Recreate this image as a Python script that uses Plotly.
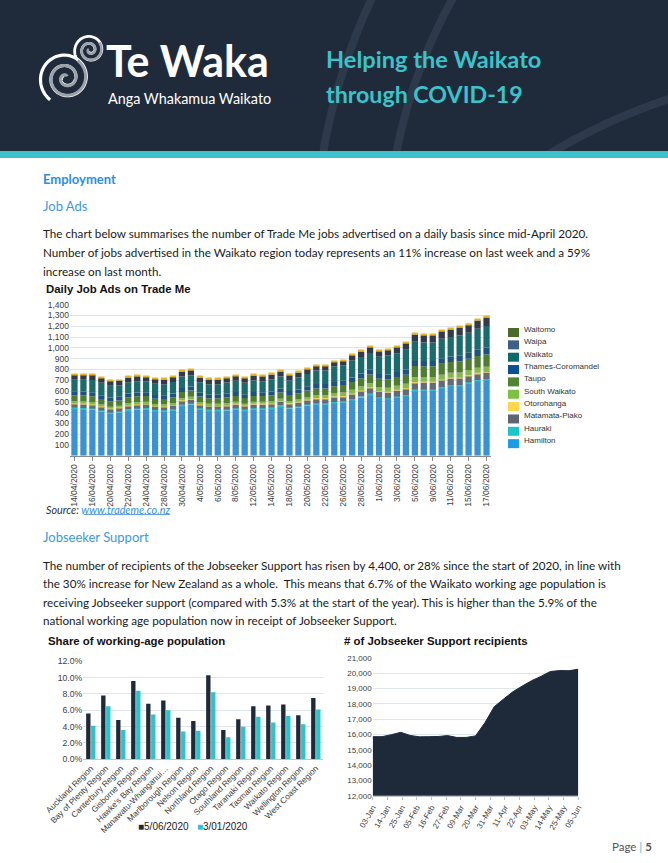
import plotly.graph_objects as go
import numpy as np

W_PX, H_PX = 668, 863


def px(x):
    return x / W_PX


def py(y):
    return 1 - y / H_PX


# ---------------- Daily Job Ads on Trade Me ----------------
DATES = ["14/04/2020", "15/04/2020", "16/04/2020", "17/04/2020", "20/04/2020", "21/04/2020",
         "22/04/2020", "23/04/2020", "24/04/2020", "27/04/2020", "28/04/2020", "29/04/2020",
         "30/04/2020", "1/05/2020", "4/05/2020", "5/05/2020", "6/05/2020", "7/05/2020",
         "8/05/2020", "11/05/2020", "12/05/2020", "13/05/2020", "14/05/2020", "15/05/2020",
         "18/05/2020", "19/05/2020", "20/05/2020", "21/05/2020", "22/05/2020", "25/05/2020",
         "26/05/2020", "27/05/2020", "28/05/2020", "29/05/2020", "1/06/2020", "2/06/2020",
         "3/06/2020", "4/06/2020", "5/06/2020", "8/06/2020", "9/06/2020", "10/06/2020",
         "11/06/2020", "12/06/2020", "15/06/2020", "16/06/2020", "17/06/2020"]

HAMILTON = [435, 432, 428, 410, 393, 400, 418, 428, 432, 415, 413, 422,
            462, 475, 432, 418, 418, 420, 430, 418, 430, 432, 435, 455, 438, 448,
            466, 478, 478, 490, 496, 517, 540, 566, 535, 525, 542, 555,
            603, 606, 606, 628, 646, 648, 672, 692, 703]
HAURAKI = [10, 10, 10, 9, 9, 9, 10, 10, 10, 9, 9, 10,
           10, 10, 9, 9, 9, 9, 10, 9, 10, 9, 9, 10, 9, 9,
           9, 9, 9, 8, 8, 8, 8, 9, 8, 8, 8, 8,
           8, 8, 8, 8, 8, 8, 9, 9, 8]
MATAMATA_PIAKO = [36, 36, 35, 33, 32, 33, 35, 35, 34, 33, 33, 34,
                  36, 36, 33, 32, 32, 34, 35, 33, 35, 34, 35, 37, 35, 37,
                  40, 42, 42, 44, 44, 46, 50, 52, 52, 54, 55, 56,
                  65, 64, 64, 63, 62, 62, 60, 60, 60]
OTOROHANGA = [6, 6, 6, 5, 5, 5, 6, 6, 6, 5, 5, 6,
              6, 6, 5, 5, 5, 6, 6, 5, 6, 6, 6, 6, 6, 6,
              6, 6, 6, 6, 6, 6, 7, 7, 6, 6, 6, 7,
              7, 7, 7, 7, 7, 7, 7, 7, 6]
SOUTH_WAIKATO = [18, 18, 18, 17, 16, 16, 18, 18, 18, 17, 17, 18,
                 20, 20, 18, 18, 18, 18, 19, 18, 19, 19, 20, 21, 20, 21,
                 24, 26, 26, 30, 33, 34, 36, 38, 36, 37, 38, 40,
                 45, 44, 44, 45, 45, 46, 46, 47, 48]
TAUPO = [56, 56, 55, 52, 50, 50, 54, 54, 53, 50, 50, 53,
         56, 57, 52, 50, 50, 52, 54, 52, 54, 53, 55, 58, 55, 57,
         60, 63, 63, 66, 68, 72, 76, 80, 76, 78, 80, 85,
         103, 100, 100, 102, 100, 102, 104, 108, 113]
THAMES_COROMANDEL = [37, 37, 36, 35, 34, 34, 35, 36, 36, 34, 34, 35,
                     38, 38, 35, 34, 34, 35, 36, 34, 36, 35, 36, 37, 36, 37,
                     38, 40, 40, 40, 40, 42, 44, 46, 44, 45, 46, 48,
                     46, 48, 48, 50, 52, 54, 56, 60, 64]
WAIKATO = [107, 110, 115, 115, 109, 106, 105, 103, 98, 103, 102, 106,
           106, 102, 97, 97, 97, 104, 105, 107, 107, 103, 111, 110, 101, 109,
           114, 126, 126, 145, 144, 159, 154, 154, 159, 176, 175, 184,
           179, 171, 171, 180, 179, 188, 186, 194, 201]
WAIPA = [46, 46, 46, 45, 44, 44, 45, 46, 46, 44, 44, 45,
         47, 47, 45, 44, 44, 45, 46, 44, 46, 45, 46, 47, 46, 47,
         44, 44, 44, 42, 42, 46, 50, 54, 52, 54, 56, 58,
         68, 68, 68, 70, 70, 72, 74, 76, 78]
WAITOMO = [9, 9, 9, 9, 8, 8, 9, 9, 9, 8, 8, 9,
           9, 9, 9, 8, 8, 9, 9, 8, 9, 9, 9, 9, 9, 9,
           9, 9, 9, 9, 9, 10, 10, 11, 10, 10, 11, 11,
           12, 12, 12, 12, 13, 13, 14, 15, 16]

SERIES_NAMES = ["Hamilton", "Hauraki", "Matamata-Piako", "Otorohanga", "South Waikato",
                "Taupo", "Thames-Coromandel", "Waikato", "Waipa", "Waitomo"]
SERIES_VALUES = [HAMILTON, HAURAKI, MATAMATA_PIAKO, OTOROHANGA, SOUTH_WAIKATO,
                 TAUPO, THAMES_COROMANDEL, WAIKATO, WAIPA, WAITOMO]
BAR_COLORS = ["#3a92d2", "#2cc0c6", "#646b74", "#f2cf4e", "#86b94a",
              "#4f7d30", "#1f5183", "#1b6a6c", "#343b46", "#e9b324"]
LEGEND_COLORS = ["#1b9de6", "#1cc5c6", "#5e656f", "#fdd64b", "#7cc142",
                 "#508535", "#0c4f93", "#0f6b6b", "#3e5f88", "#4a6a29"]
JOB_TICKS = [100, 200, 300, 400, 500, 600, 700, 800, 900, 1000, 1100, 1200, 1300, 1400]

# ---------------- Share of working-age population ----------------
REGIONS = ["Auckland Region", "Bay of Plenty Region", "Canterbury Region", "Gisborne Region",
           "Hawke's Bay Region", "Manawatu-Whanganui…", "Marlborough Region", "Nelson Region",
           "Northland Region", "Otago Region", "Southland Region", "Taranaki Region",
           "Tasman Region", "Waikato Region", "Wellington Region", "West Coast Region"]
SHARE_JUN = [5.6, 7.8, 4.8, 9.6, 6.8, 7.2, 5.1, 4.7, 10.3, 3.6, 4.9, 6.5, 6.6, 6.7, 5.4, 7.5]
SHARE_JAN = [4.1, 6.5, 3.6, 8.4, 5.5, 6.0, 3.4, 3.5, 8.2, 2.7, 4.0, 5.2, 4.5, 5.3, 4.3, 6.1]
SHARE_NAMES = ["5/06/2020", "3/01/2020"]
SHARE_COLORS = ["#1e2a3a", "#2fc2c8"]
SHARE_TICKS = [0, 2, 4, 6, 8, 10, 12]
SHARE_TICKTEXT = ["0.0%", "2.0%", "4.0%", "6.0%", "8.0%", "10.0%", "12.0%"]

# ---------------- Jobseeker Support recipients ----------------
JS_DATES = ["2020-01-03", "2020-01-10", "2020-01-17", "2020-01-24", "2020-01-31", "2020-02-07",
            "2020-02-14", "2020-02-21", "2020-02-28", "2020-03-06", "2020-03-13", "2020-03-20",
            "2020-03-27", "2020-04-03", "2020-04-10", "2020-04-17", "2020-04-24", "2020-05-01",
            "2020-05-08", "2020-05-15", "2020-05-22", "2020-05-29", "2020-06-05"]
JS_VALUES = [15850, 15850, 15980, 16130, 15930, 15840, 15850, 15860, 15920, 15800, 15800, 15900,
             16750, 17800, 18300, 18780, 19150, 19500, 19780, 20100, 20160, 20150, 20250]

NAVY = "#1f2b3b"
TEAL = "#3cc2ca"
BLUE_HEAD = "#2e8fd6"
ARIAL = "Liberation Sans, Arial, sans-serif"
BODY = "Lato, sans-serif"

fig = go.Figure()

# stacked bars (overlay with cumulative base)
base = np.zeros(len(DATES))
for name, vals, col in zip(SERIES_NAMES, SERIES_VALUES, BAR_COLORS):
    v = np.array(vals, dtype=float)
    fig.add_trace(go.Bar(x=DATES, y=v, base=base.copy(), name=name, width=0.7,
                         marker=dict(color=col, line=dict(width=0)),
                         xaxis="x", yaxis="y", showlegend=False))
    base = base + v

fig.add_trace(go.Bar(x=REGIONS, y=SHARE_JUN, name=SHARE_NAMES[0], width=0.29, offset=-0.31,
                     marker=dict(color=SHARE_COLORS[0], line=dict(width=0)),
                     xaxis="x2", yaxis="y2", showlegend=False))
fig.add_trace(go.Bar(x=REGIONS, y=SHARE_JAN, name=SHARE_NAMES[1], width=0.29, offset=0.02,
                     marker=dict(color=SHARE_COLORS[1], line=dict(width=0)),
                     xaxis="x2", yaxis="y2", showlegend=False))

fig.add_trace(go.Scatter(x=JS_DATES, y=JS_VALUES, mode="lines", fill="tozeroy",
                         line=dict(color="#1e2a3a", width=1), fillcolor="#1e2a3a",
                         xaxis="x3", yaxis="y3", showlegend=False))

grid = "#dfe5ec"
tickfont = dict(family=ARIAL, size=8.5, color="#404040")

fig.update_layout(
    width=W_PX, height=H_PX,
    margin=dict(l=0, r=0, t=0, b=0, pad=0, autoexpand=False),
    paper_bgcolor="white", plot_bgcolor="rgba(0,0,0,0)",
    barmode="overlay", showlegend=False,
    xaxis=dict(domain=[px(70), px(491)], anchor="y", type="category", automargin=False,
               range=[-0.5, len(DATES) - 0.5],
               tickvals=DATES[::2], ticktext=DATES[::2], tickangle=-90,
               tickfont=tickfont, ticks="outside", ticklen=4, tickcolor="#8a8a8a",
               showline=True, linecolor="#8a8a8a", linewidth=1, showgrid=False),
    yaxis=dict(domain=[py(455.8), py(304.6)], anchor="x", range=[0, 1400], automargin=False,
               tickvals=JOB_TICKS, tickformat=",", tickfont=tickfont,
               gridcolor=grid, gridwidth=1, zeroline=False, showline=False),
    xaxis2=dict(domain=[px(83.3), px(323.3)], anchor="y2", type="category", automargin=False,
                range=[-0.5, len(REGIONS) - 0.5], tickangle=-45,
                tickfont=dict(family=ARIAL, size=8.3, color="#404040"),
                showline=True, linecolor="#bfc5cc", showgrid=False, ticks=""),
    yaxis2=dict(domain=[py(759.3), py(661.3)], anchor="x2", range=[0, 12], automargin=False,
                tickvals=SHARE_TICKS, ticktext=SHARE_TICKTEXT,
                tickfont=dict(family=ARIAL, size=8.7, color="#404040"),
                gridcolor=grid, zeroline=False),
    xaxis3=dict(domain=[px(372.7), px(578.3)], anchor="y3", type="date", automargin=False,
                range=["2020-01-03", "2020-06-05"], tick0="2020-01-03",
                dtick=11 * 86400000, tickformat="%d-%b", tickangle=-60,
                tickfont=dict(family=ARIAL, size=8, color="#404040"),
                showline=True, linecolor="#bfc5cc", showgrid=False, ticks="outside",
                ticklen=3, tickcolor="#bfc5cc"),
    yaxis3=dict(domain=[py(795.7), py(657.7)], anchor="x3", range=[12000, 21000], automargin=False,
                dtick=1000, tickformat=",", tickfont=dict(family=ARIAL, size=8, color="#404040"),
                gridcolor=grid, zeroline=False),
)

shapes = []
# header
shapes.append(dict(type="rect", xref="paper", yref="paper", x0=0, x1=1, y0=py(151), y1=1,
                   fillcolor=NAVY, line=dict(width=0), layer="below"))
for cx, cy, r in [(900, 250, 585), (900, 250, 513), (850, 650, 580)]:
    shapes.append(dict(type="circle", xref="paper", yref="paper",
                       x0=px(cx - r), x1=px(cx + r), y0=py(cy + r), y1=py(cy - r),
                       line=dict(color="#2d3a4c", width=8), fillcolor="rgba(0,0,0,0)", layer="below"))
shapes.append(dict(type="rect", xref="paper", yref="paper", x0=-0.1, x1=1.1, y0=-0.1, y1=py(151),
                   fillcolor="white", line=dict(width=0), layer="below"))
shapes.append(dict(type="rect", xref="paper", yref="paper", x0=0, x1=1, y0=py(158), y1=py(151),
                   fillcolor=TEAL, line=dict(width=0), layer="below"))


def spiral(cx, cy, r_out, r_in, turns, phase, n=240):
    t = np.linspace(0, 1, n)
    theta = phase + t * turns * 2 * np.pi
    r = r_out - (r_out - r_in) * t
    xs = cx + r * np.cos(theta)
    ys = cy + r * np.sin(theta)
    return "M " + " L ".join(f"{px(a):.5f},{py(b):.5f}" for a, b in zip(xs, ys))


for cx, cy, ro, ri, turns, ph, col, w in [
    (66, 78, 27, 3, 2.3, 2.2, "white", 3.2),
    (66, 78, 21, 2, 2.0, 5.3, "#9aa1aa", 3.0),
    (90, 50, 16, 2, 2.0, 2.5, "white", 2.8),
    (90, 50, 12, 1.5, 1.7, 5.6, "#9aa1aa", 2.6),
]:
    shapes.append(dict(type="path", xref="paper", yref="paper", path=spiral(cx, cy, ro, ri, turns, ph),
                       line=dict(color=col, width=w), layer="above"))

# main chart legend
legend_names = SERIES_NAMES[::-1]
legend_cols = LEGEND_COLORS[::-1]
annotations = []
for i, (nm, col) in enumerate(zip(legend_names, legend_cols)):
    yc = 329.5 + 12.35 * i
    shapes.append(dict(type="rect", xref="paper", yref="paper", x0=px(508), x1=px(519),
                       y0=py(yc + 7.5), y1=py(yc - 1.5), fillcolor=col, line=dict(width=0)))
    annotations.append(dict(text=nm, x=px(522), y=py(yc), xref="paper", yref="paper",
                            xanchor="left", yanchor="middle", showarrow=False,
                            font=dict(family=ARIAL, size=8, color="#333333")))

# underline for link
shapes.append(dict(type="line", xref="paper", yref="paper", x0=px(84), x1=px(170),
                   y0=py(514.5), y1=py(514.5), line=dict(color="#3a8fd6", width=0.8)))


def ann(text, x, y, size, color="#1a1a1a", family=BODY, xanchor="left"):
    annotations.append(dict(text=text, x=px(x), y=py(y), xref="paper", yref="paper",
                            xanchor=xanchor, yanchor="middle", showarrow=False,
                            font=dict(family=family, size=size, color=color)))


# header texts
ann("<b>Te Waka</b>", 104, 60, 43, "white", "Lato, sans-serif")
ann("Anga Whakamua Waikato", 106, 98, 14.4, "white", "Lato, sans-serif")
ann("<b>Helping the Waikato</b>", 324, 59, 23.6, TEAL, "Lato, sans-serif")
ann("<b>through COVID-19</b>", 324, 94, 23.2, TEAL, "Lato, sans-serif")

# body texts
ann("<b>Employment</b>", 41, 179, 13, BLUE_HEAD)
ann("Job Ads", 41, 206, 13, "#3d9ad8")
para1 = ["The chart below summarises the number of Trade Me jobs advertised on a daily basis since mid-April 2020.",
         "Number of jobs advertised in the Waikato region today represents an 11% increase on last week and a 59%",
         "increase on last month."]
for i, line in enumerate(para1):
    ann(line, 41, 233 + 19 * i, 11.7)
ann("<b>Daily Job Ads on Trade Me</b>", 44, 289, 11.4, "#111111", ARIAL)
ann("<i>Source: <span style='color:#3a8fd6'>www.trademe.co.nz</span></i>", 44, 509, 10.8, "#333333")
ann("Jobseeker Support", 41, 537, 13, "#3d9ad8")
para2 = ["The number of recipients of the Jobseeker Support has risen by 4,400, or 28% since the start of 2020, in line with",
         "the 30% increase for New Zealand as a whole.  This means that 6.7% of the Waikato working age population is",
         "receiving Jobseeker support (compared with 5.3% at the start of the year). This is higher than the 5.9% of the",
         "national working age population now in receipt of Jobseeker Support."]
for i, line in enumerate(para2):
    ann(line, 41, 565 + 18.3 * i, 11.7)

ann("<b>Share of working-age population</b>", 46, 641, 11.4, "#111111", ARIAL)
ann("<b># of Jobseeker Support recipients</b>", 342, 641, 11.4, "#111111", ARIAL)
legend2 = (f"<span style='color:{SHARE_COLORS[0]}'>■</span>{SHARE_NAMES[0]}   "
           f"<span style='color:{SHARE_COLORS[1]}'>■</span>{SHARE_NAMES[1]}")
ann(legend2, 193, 826, 10, "#222222", ARIAL, xanchor="center")

# footer
ann("Page <span style='color:#3cc2ca'>|</span> <b>5</b>", 654, 846, 11.5, "#555555", BODY, xanchor="right")

fig.update_layout(shapes=shapes, annotations=annotations)
fig.write_html("out.html", config={"displayModeBar": False},
               post_script="document.body.style.margin='0px';")
